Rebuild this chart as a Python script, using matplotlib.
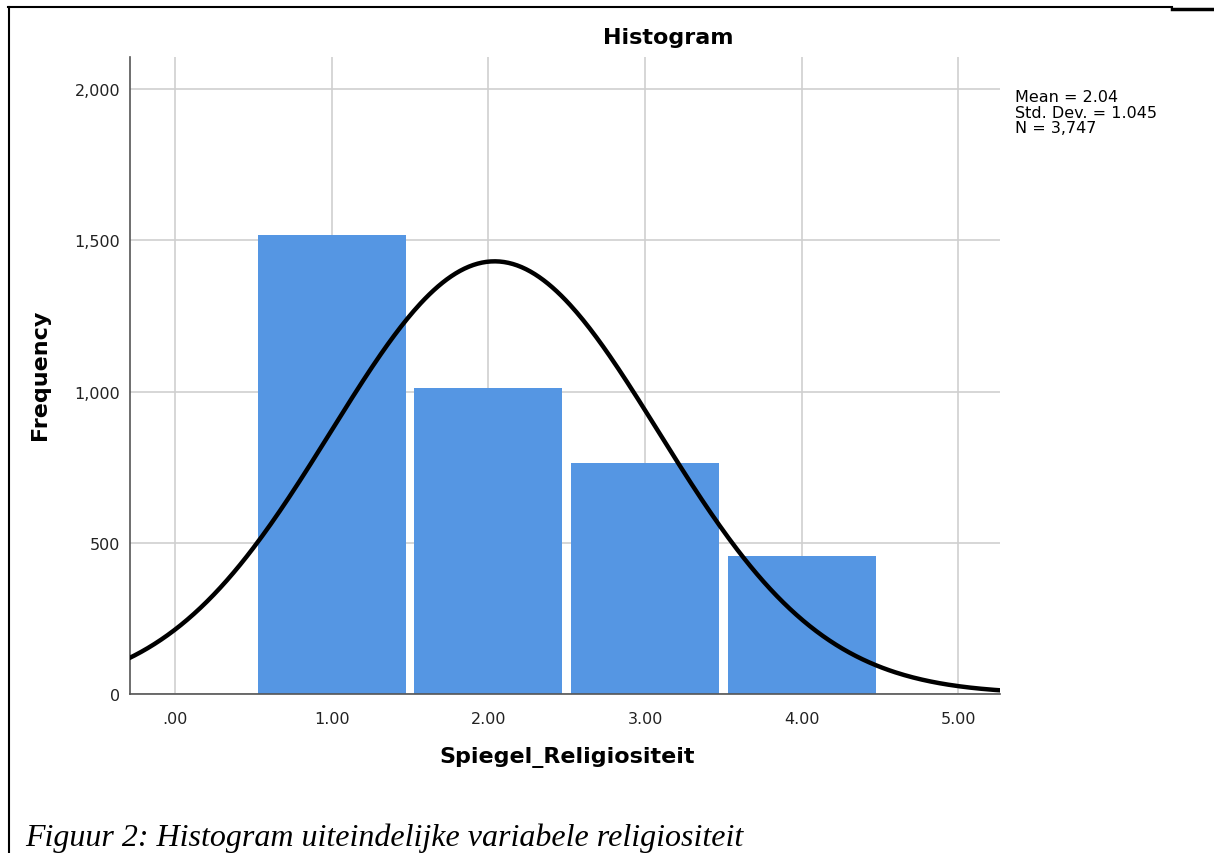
import numpy as np
import matplotlib.pyplot as plt
from matplotlib.lines import Line2D

# waarden
categories = [1, 2, 3, 4]
frequencies = [1517, 1012, 763, 455]
x_ticks = [0, 1, 2, 3, 4, 5]
x_labels = ['.00', '1.00', '2.00', '3.00', '4.00', '5.00']
y_ticks = [0, 500, 1000, 1500, 2000]
y_labels = ['0', '500', '1,000', '1,500', '2,000']
mean, sd, n = 2.04, 1.045, 3747

fig = plt.figure(figsize=(12.14, 8.54), dpi=100)
W, H = 1214, 854
ax = fig.add_axes([130 / W, 1 - 695 / H, 870 / W, (695 - 58) / H])

ax.bar(categories, frequencies, width=0.945, color='#5596e3',
       linewidth=0, zorder=2)

# normale curve op basis van gemiddelde en sd
fx = np.linspace(-0.3, 5.3, 400)
fy = n * 1.0 / (sd * np.sqrt(2 * np.pi)) * np.exp(-0.5 * ((fx - mean) / sd) ** 2)
ax.plot(fx, fy, color='black', linewidth=3.2, zorder=3)

ax.set_xlim(-0.287, 5.265)
ax.set_ylim(0, 2106)
ax.set_xticks(x_ticks)
ax.set_xticklabels(x_labels)
ax.set_yticks(y_ticks)
ax.set_yticklabels(y_labels)
ax.tick_params(length=0, labelsize=11.5, pad=12, colors='#222222')
ax.tick_params(axis='y', pad=7)
ax.grid(True, color='#cfcfcf', linewidth=1.2, zorder=0)
ax.set_axisbelow(True)
for s in ['top', 'right']:
    ax.spines[s].set_visible(False)
for s in ['left', 'bottom']:
    ax.spines[s].set_color('#555555')
    ax.spines[s].set_linewidth(1.2)

fig.text(668 / W, 1 - 38 / H, 'Histogram', ha='center', va='center',
         fontsize=16, fontweight='bold')
fig.text(567 / W, 1 - 758 / H, 'Spiegel_Religiositeit', ha='center', va='center',
         fontsize=16, fontweight='bold')
fig.text(40 / W, 1 - 375 / H, 'Frequency', ha='center', va='center',
         fontsize=16, fontweight='bold', rotation=90)
fig.text(1015 / W, 1 - 90 / H, 'Mean = 2.04\nStd. Dev. = 1.045\nN = 3,747',
         ha='left', va='top', fontsize=11.5, linespacing=1.05)

fig.text(25 / W, 1 - 838 / H, 'Figuur 2: Histogram uiteindelijke variabele religiositeit',
         ha='left', va='center', fontsize=23, style='italic', family='Liberation Serif')

# kaderlijnen van het document
fig.add_artist(Line2D([8 / W, 1172 / W], [1 - 8 / H, 1 - 8 / H], color='black', linewidth=1.5))
fig.add_artist(Line2D([1172 / W, 1], [1 - 9.5 / H, 1 - 9.5 / H], color='black', linewidth=2.5))
fig.add_artist(Line2D([8.5 / W, 8.5 / W], [0, 1 - 8 / H], color='black', linewidth=1.5))

fig.savefig('out.png', dpi=100)
